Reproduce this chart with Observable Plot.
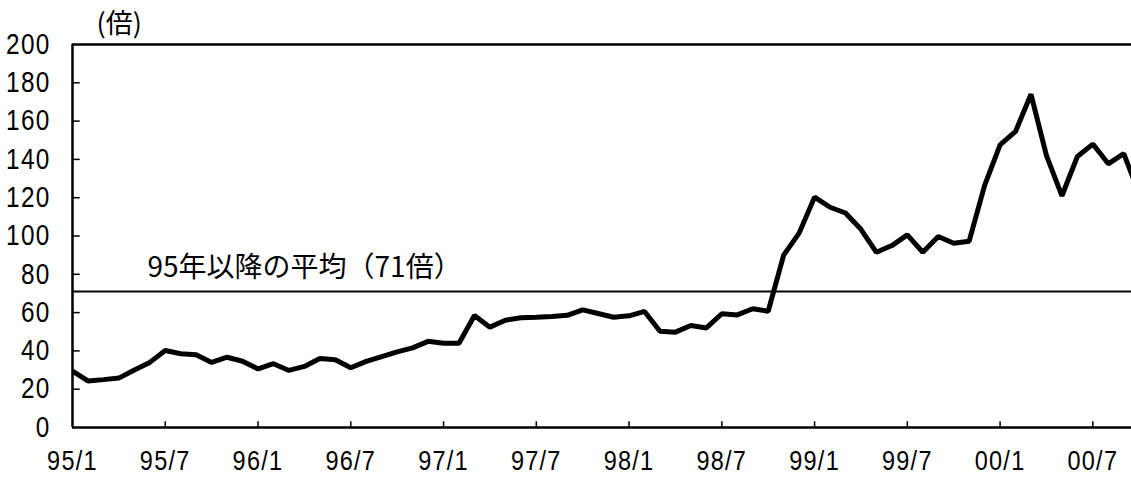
<!DOCTYPE html>
<html>
<head>
<meta charset="utf-8">
<script src="https://cdn.jsdelivr.net/npm/d3@7"></script>
<script src="https://cdn.jsdelivr.net/npm/@observablehq/plot@0.6"></script>
<style>
  html, body { margin: 0; padding: 0; background: #fff; }
  #chart svg { display: block; }
</style>
</head>
<body>
<div id="chart"></div>
<script>
// Monthly index from 95/1 (0) to 00/10 (69)
const months = d3.range(0, 70);
const values = [
  29.4, 24.3, 25.0, 25.8, 30.0, 34.0, 40.2, 38.5, 38.0, 34.0,
  36.7, 34.6, 30.6, 33.3, 29.8, 31.9, 36.0, 35.4, 31.2, 34.5,
  37.0, 39.5, 41.6, 45.0, 44.0, 44.0, 58.5, 52.4, 56.0, 57.3,
  57.6, 58.0, 58.6, 61.4, 59.5, 57.6, 58.3, 60.6, 50.3, 49.8,
  53.3, 52.0, 59.4, 58.8, 62.0, 60.7, 90.0, 101.5, 120.3, 115.0,
  112.0, 103.5, 91.5, 95.0, 100.6, 91.5, 99.7, 96.2, 97.3, 126.4,
  147.6, 154.6, 174.0, 142.0, 121.0, 141.5, 148.0, 137.7, 143.0, 122.0
];
const xTickPos = [0, 6, 12, 18, 24, 30, 36, 42, 48, 54, 60, 66];
const xTickLabels = ["95/1", "95/7", "96/1", "96/7", "97/1", "97/7", "98/1", "98/7", "99/1", "99/7", "00/1", "00/7"];
const yTicks = [0, 20, 40, 60, 80, 100, 120, 140, 160, 180, 200];
const average = 71;
const avgLabel = "95年以降の平均（71倍）";
const unitLabel = "(倍)";

const data = months.map((m, i) => ({m, v: values[i]}));

const numFont = "'Liberation Sans', Arial, sans-serif";
const cjkFont = "'Noto Sans CJK JP', sans-serif";

const chart = Plot.plot({
  width: 1131,
  height: 477,
  marginLeft: 72,
  marginRight: 0,
  marginTop: 44,
  marginBottom: 50,
  style: {background: "#fff", color: "#000"},
  x: {domain: [0, 68.5], label: null},
  y: {domain: [0, 200], label: null},
  marks: [
    Plot.axisY(yTicks, {
      tickSize: 0, tickPadding: 22, fontSize: 29, fontFamily: numFont, fill: "#000",
      className: "num-axis", label: null
    }),
    Plot.axisX(xTickPos, {
      tickSize: 0, tickPadding: 23, fontSize: 28, fontFamily: numFont, fill: "#000",
      className: "num-axis", label: null,
      tickFormat: (d) => xTickLabels[xTickPos.indexOf(d)]
    }),
    // inward tick marks
    Plot.ruleY(yTicks.filter(d => d > 0 && d < 200), {y: d => d, x1: 0, x2: 0.5, stroke: "#000", strokeWidth: 1.5}),
    Plot.ruleX(xTickPos.filter(d => d > 0), {x: d => d, y1: 0, y2: 3, stroke: "#000", strokeWidth: 1.5}),
    // frame lines
    Plot.ruleY([200], {stroke: "#000", strokeWidth: 2.5}),
    Plot.ruleY([0], {stroke: "#000", strokeWidth: 2.5}),
    Plot.ruleX([0], {stroke: "#000", strokeWidth: 2.5}),
    // average
    Plot.ruleY([average], {stroke: "#000", strokeWidth: 2}),
    Plot.text([avgLabel], {
      frameAnchor: "left", y: average, dx: 75, dy: -15, textAnchor: "start", lineAnchor: "bottom",
      fontSize: 28, fontFamily: cjkFont, fill: "#000"
    }),
    // series
    Plot.line(data, {x: "m", y: "v", stroke: "#000", strokeWidth: 5, strokeLinejoin: "miter", clip: true}),
    // unit label
    Plot.text([unitLabel], {
      frameAnchor: "top-left", dx: 24, dy: -31, textAnchor: "start", lineAnchor: "top",
      fontSize: 27, fontFamily: cjkFont, fill: "#000"
    })
  ]
});
// condense numeric tick labels horizontally, like the original narrow typeface
chart.querySelectorAll(".num-axis text").forEach((t) => {
  const tr = t.getAttribute("transform") || "";
  t.setAttribute("transform", tr + " scale(0.84,1)");
  t.setAttribute("letter-spacing", "1.5");
});
document.getElementById("chart").append(chart);
</script>
</body>
</html>
